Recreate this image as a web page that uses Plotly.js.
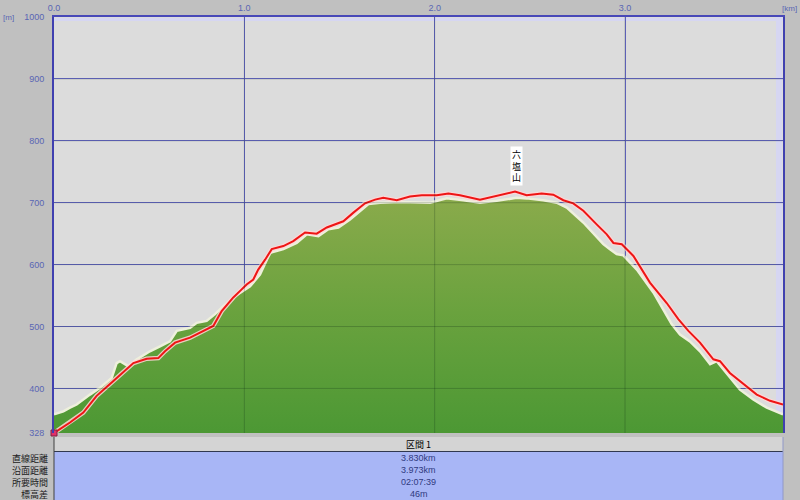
<!DOCTYPE html>
<html><head><meta charset="utf-8">
<script src="https://cdn.plot.ly/plotly-3.0.1.min.js"></script>
<style>html,body{margin:0;padding:0;background:#c0c0c0}</style>
</head><body><div id="chart" style="width:800px;height:500px"></div>
<script>
// Terrain profile (green area)
const terrainKm = [0.000,0.049,0.084,0.119,0.189,0.242,0.303,0.329,0.347,0.390,0.435,0.504,0.557,0.609,0.645,0.715,0.750,0.802,0.846,0.890,0.951,1.030,1.082,1.135,1.205,1.275,1.328,1.389,1.441,1.494,1.555,1.599,1.652,1.713,1.818,1.976,2.063,2.151,2.238,2.326,2.431,2.483,2.571,2.641,2.694,2.781,2.886,2.921,2.956,2.991,3.062,3.149,3.245,3.289,3.341,3.394,3.447,3.482,3.534,3.604,3.674,3.745,3.830];
const terrainElev = [358,363,369,374,390,401,417,441,444,436,447,460,468,476,493,498,506,509,520,533,549,565,584,619,625,635,649,646,657,660,673,684,698,700,701,700,707,704,700,703,708,707,704,700,692,668,633,625,617,615,592,555,504,487,476,460,439,444,425,398,382,369,358];
// GPS track (red line)
const trackKm = [0.000,0.084,0.154,0.224,0.312,0.382,0.417,0.487,0.548,0.583,0.636,0.715,0.784,0.837,0.881,0.942,0.986,1.012,1.047,1.073,1.109,1.144,1.205,1.257,1.319,1.380,1.433,1.476,1.520,1.573,1.634,1.687,1.730,1.801,1.870,1.932,2.011,2.072,2.133,2.238,2.326,2.422,2.483,2.562,2.623,2.676,2.728,2.781,2.851,2.904,2.939,2.983,3.044,3.131,3.219,3.280,3.333,3.394,3.464,3.499,3.551,3.622,3.692,3.762,3.830];
const trackElev = [328,345,361,388,412,431,441,448,449,460,474,482,493,501,525,547,560,568,576,592,608,625,630,638,652,650,660,665,670,684,699,705,708,704,710,712,712,715,712,705,711,718,712,715,713,704,699,687,665,649,635,633,614,571,538,512,493,474,447,444,425,407,390,380,374];

const yTickVals = [328,400,500,600,700,800,900,1000];
const yTickText = ['328','400','500','600','700','800','900','1000'];
const xTickVals = [0,1,2,3];
const xTickText = ['0.0','1.0','2.0','3.0'];
const yGridVals = [400,500,600,700,800,900];
const xGridVals = [1,2,3];

const peakName = ['六','塩','山'];
const peakKm = 2.43;
const peakLabelElev = 759;

const sectionName = '区間 1';
const rowLabels = ['直線距離','沿面距離','所要時間','標高差'];
const rowValues = ['3.830km','3.973km','02:07:39','46m'];

const jp = '"Noto Sans CJK JP", sans-serif';
const num = '"Liberation Sans", sans-serif';
const tickCol = '#5a66b4';

const traces = [
  {x: terrainKm, y: terrainElev, type:'scatter', mode:'lines', fill:'tozeroy',
   line:{color:'#eef0dc', width:2.5},
   fillgradient:{type:'vertical', start:328, stop:720,
     colorscale:[[0,'#4c9834'],[0.5,'#6aa23e'],[1,'#8cab4c']]},
   hoverinfo:'skip'},
  {x: trackKm, y: trackElev, type:'scatter', mode:'lines',
   line:{color:'rgba(255,215,215,0.85)', width:4.5}, hoverinfo:'skip'},
  {x: trackKm, y: trackElev, type:'scatter', mode:'lines',
   line:{color:'#ee1515', width:2}, hoverinfo:'skip'},
  {x: [trackKm[0]], y: [trackElev[0]], type:'scatter', mode:'markers',
   marker:{color:'#e0306a', size:6, symbol:'square', line:{color:'#802040', width:1}},
   cliponaxis:false, hoverinfo:'skip'}
];

const shapes = [];
yGridVals.forEach(v => shapes.push({type:'line', xref:'paper', x0:0, x1:1, yref:'y', y0:v, y1:v,
  line:{color:'rgba(0,30,20,0.22)', width:1}, layer:'above'}));
xGridVals.forEach(v => shapes.push({type:'line', yref:'paper', y0:0, y1:1, xref:'x', x0:v, x1:v,
  line:{color:'rgba(0,30,20,0.22)', width:1}, layer:'above'}));
// inner lavender strips
shapes.push({type:'rect', xref:'paper', x0:0, x1:1, yref:'paper', ysizemode:'pixel', yanchor:1, y0:-4, y1:-1,
  fillcolor:'#d6d6f2', line:{width:0}, layer:'below'});
shapes.push({type:'rect', yref:'paper', y0:0, y1:1, xref:'paper', xsizemode:'pixel', xanchor:1, x0:-7, x1:-1,
  fillcolor:'#d6d6f2', line:{width:0}, layer:'below'});
// table
shapes.push({type:'rect', xref:'paper', x0:0, x1:1, yref:'paper', ysizemode:'pixel', yanchor:0, y0:-4, y1:-18,
  fillcolor:'#d4d4d4', line:{width:0}});
shapes.push({type:'rect', xref:'paper', x0:0, x1:1, yref:'paper', ysizemode:'pixel', yanchor:0, y0:-19, y1:-70,
  fillcolor:'#a8b6f6', line:{width:0}});
shapes.push({type:'line', xref:'paper', x0:0, x1:1, yref:'paper', ysizemode:'pixel', yanchor:0, y0:-18.5, y1:-18.5,
  line:{color:'#303850', width:1}});
shapes.push({type:'line', xref:'paper', x0:0, x1:0, yref:'paper', ysizemode:'pixel', yanchor:0, y0:-4, y1:-70,
  line:{color:'#404040', width:1}});
shapes.push({type:'line', xref:'paper', x0:1, x1:1, yref:'paper', ysizemode:'pixel', yanchor:0, y0:-4, y1:-70,
  line:{color:'#9098c8', width:1}});

const annotations = [];
annotations.push({x: peakKm, y: peakLabelElev, xref:'x', yref:'y', text: peakName.join('<br>'),
  showarrow:false, bgcolor:'#ffffff', borderpad:1, font:{family:jp, size:9, color:'#000'}});
annotations.push({xref:'paper', yref:'paper', x:0, y:1, xanchor:'left', yanchor:'middle', xshift:-53,
  text:'[m]', showarrow:false, font:{family:num, size:8, color:tickCol}});
annotations.push({xref:'paper', yref:'paper', x:1, y:1, xanchor:'right', yanchor:'middle', xshift:16, yshift:9,
  text:'[km]', showarrow:false, font:{family:num, size:8, color:tickCol}});
annotations.push({xref:'paper', yref:'paper', x:0.5, y:0, yanchor:'middle', yshift:-11,
  text: sectionName, showarrow:false, font:{family:jp, size:9, color:'#000'}});
const rowShift = [-25,-37,-49,-61];
rowLabels.forEach((t,i) => annotations.push({xref:'paper', yref:'paper', x:0, y:0, xanchor:'right', yanchor:'middle',
  xshift:-4, yshift:rowShift[i], text:t, showarrow:false, font:{family:jp, size:9, color:'#202020'}}));
rowValues.forEach((t,i) => annotations.push({xref:'paper', yref:'paper', x:0.5, y:0, yanchor:'middle',
  yshift:rowShift[i], text:t, showarrow:false, font:{family:num, size:9, color:'#303a80'}}));

const layout = {
  width:800, height:500,
  margin:{l:54, r:17, t:17, b:67, pad:0},
  paper_bgcolor:'#c0c0c0', plot_bgcolor:'#dcdcdc',
  showlegend:false,
  xaxis:{range:[0,3.83], side:'top', tickvals:xTickVals, ticktext:xTickText,
    showgrid:true, gridcolor:'#6a6acc', gridwidth:1, zeroline:false,
    showline:true, linecolor:'#4848b8', linewidth:2, mirror:false,
    ticks:'', ticklabelstandoff:0, tickfont:{family:num, size:9, color:tickCol}, fixedrange:true},
  yaxis:{range:[328,1000], tickvals:yTickVals, ticktext:yTickText,
    showgrid:true, gridcolor:'#6a6acc', gridwidth:1, zeroline:false,
    showline:true, linecolor:'#4040b0', linewidth:2, mirror:true,
    ticks:'', ticklabelstandoff:6, tickfont:{family:num, size:9, color:tickCol}, fixedrange:true},
  shapes: shapes, annotations: annotations
};
Plotly.newPlot('chart', traces, layout, {staticPlot:true, displayModeBar:false});
</script></body></html>
